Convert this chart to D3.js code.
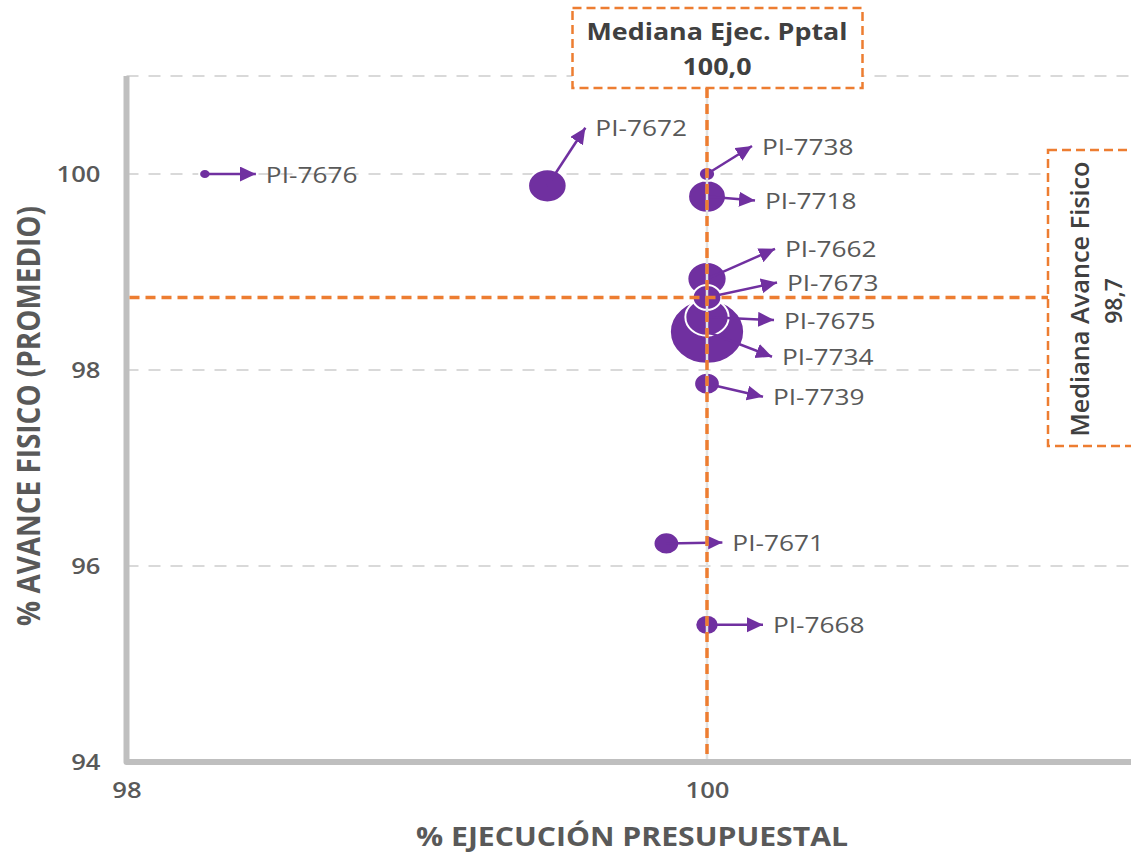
<!DOCTYPE html>
<html><head><meta charset="utf-8">
<script src="https://cdn.jsdelivr.net/npm/d3@7"></script>
<style>body{margin:0;background:#fff}svg{display:block}</style>
</head><body>
<script>
// ---- data ----
const projects  = ["PI-7676","PI-7672","PI-7738","PI-7718","PI-7662","PI-7673","PI-7675","PI-7734","PI-7739","PI-7671","PI-7668"];
const ejecucion = [98.27, 99.45, 100.0, 100.0, 100.0, 100.0, 100.0, 100.0, 100.0, 99.86, 100.0];
const avance    = [100.0, 99.88, 100.0, 99.77, 98.93, 98.74, 98.54, 98.39, 97.86, 96.23, 95.40];
const tamano    = [2.4, 27, 4.8, 26, 28, 15, 34, 100, 12, 12, 10];
const xTicks = [98, 100];
const yTicks = [94, 96, 98, 100];
const medianaEjec = 100.0;
const medianaAvance = 98.74;
const xTitle = "% EJECUCIÓN PRESUPUESTAL";
const yTitle = "% AVANCE FISICO (PROMEDIO)";
const boxTopTitle = "Mediana Ejec. Pptal";
const boxRightTitle = "Mediana Avance Fisico";

// ---- layout (label arrow offsets in px, relative to bubble centre) ----
const arrowTip = [[51,0],[38,-58],[45,-28],[48,4],[68,-30],[70,-15],[67,3],[65,25],[56,13],[56,-1],[56,0]];

const W = 1131, H = 855;
const PURPLE = "#7030a0", ORANGE = "#ed7d31", GRID = "#d9d9d9", AXIS = "#bfbfbf", TXT = "#595959", DARK = "#404040";
const FONT = "'Open Sans', 'DejaVu Sans', sans-serif";
const fmt = v => d3.format(".1f")(v).replace(".", ",");

const x = d3.scaleLinear().domain([98, 100]).range([126.5, 707]);
const y = d3.scaleLinear().domain([94, 101]).range([762, 76]);
const r = d3.scaleSqrt().domain([0, 100]).range([0, 32]);
const STRETCH = 1.16;

const svg = d3.select("body").append("svg").attr("width", W).attr("height", H)
  .style("font-family", FONT);

// gridlines
const gridVals = yTicks.filter(v => v > y.domain()[0]).concat([y.domain()[1]]);
svg.append("g").selectAll("line").data(gridVals).join("line")
  .attr("x1", x(98)).attr("x2", W)
  .attr("y1", d => y(d)).attr("y2", d => y(d))
  .attr("stroke", GRID).attr("stroke-width", 2).attr("stroke-dasharray", "12,10");

// axes lines
svg.append("path")
  .attr("d", `M${x(98)},${y(101)} V${y(94)} H${W}`)
  .attr("fill", "none").attr("stroke", AXIS).attr("stroke-width", 6)
  .attr("stroke-linejoin", "round");

// tick labels via d3 axes
const sx = 1.22;
const yAx = svg.append("g").attr("transform", `translate(${x(98)},0)`)
  .call(d3.axisLeft(y).tickValues(yTicks).tickSize(0).tickFormat(d3.format("d")));
yAx.select(".domain").remove();
yAx.selectAll("text")
  .attr("x", -26 / sx).attr("dy", "0.36em")
  .attr("transform", `scale(${sx},1)`)
  .style("font-family", FONT).style("font-size", "21px").style("font-weight", 600).attr("fill", TXT);

const xAx = svg.append("g").attr("transform", `translate(0,${y(94)})`)
  .call(d3.axisBottom(x).tickValues(xTicks).tickSize(0).tickFormat(d3.format("d")));
xAx.select(".domain").remove();
xAx.selectAll("text")
  .attr("y", 36).attr("dy", "0em")
  .attr("transform", `scale(${sx},1)`)
  .style("font-family", FONT).style("font-size", "21px").style("font-weight", 600).attr("fill", TXT);

// axis titles
svg.append("text").text(xTitle)
  .attr("x", 632).attr("y", 846).attr("text-anchor", "middle")
  .attr("textLength", 432).attr("lengthAdjust", "spacingAndGlyphs")
  .style("font-size", "26px").style("font-weight", 700).attr("fill", TXT);

svg.append("text").text(yTitle)
  .attr("transform", "translate(40,416) rotate(-90) scale(1,1.2)")
  .attr("text-anchor", "middle")
  .attr("textLength", 420).attr("lengthAdjust", "spacingAndGlyphs")
  .style("font-size", "27px").style("font-weight", 700).attr("fill", TXT);

// data rows
const rows = projects.map((p, i) => ({
  name: p, ex: ejecucion[i], av: avance[i], size: tamano[i], tip: arrowTip[i]
}));

// bubbles (largest first)
svg.append("g").selectAll("ellipse")
  .data(rows.slice().sort((a, b) => b.size - a.size))
  .join("ellipse")
  .attr("cx", d => x(d.ex)).attr("cy", d => y(d.av))
  .attr("rx", d => r(d.size) * STRETCH).attr("ry", d => r(d.size))
  .attr("fill", PURPLE).attr("stroke", "#fff").attr("stroke-width", 2);

// arrows
const defs = svg.append("defs");
defs.append("marker").attr("id", "ah")
  .attr("markerUnits", "userSpaceOnUse")
  .attr("markerWidth", 18).attr("markerHeight", 16)
  .attr("refX", 16).attr("refY", 7.5).attr("orient", "auto")
  .append("path").attr("d", "M0,0 L16,7.5 L0,15 Z").attr("fill", PURPLE);

svg.append("g").selectAll("line").data(rows).join("line")
  .attr("x1", d => x(d.ex)).attr("y1", d => y(d.av))
  .attr("x2", d => x(d.ex) + d.tip[0]).attr("y2", d => y(d.av) + d.tip[1])
  .attr("stroke", PURPLE).attr("stroke-width", 2.5)
  .attr("marker-end", "url(#ah)");

// median lines
const mx = x(medianaEjec), my = y(medianaAvance);
svg.append("line").attr("x1", mx).attr("x2", mx).attr("y1", 88).attr("y2", y(94) - 3)
  .attr("stroke", "#e2e2e2").attr("stroke-width", 2.5);
svg.append("line").attr("x1", mx).attr("x2", mx).attr("y1", 88).attr("y2", y(94) - 3)
  .attr("stroke", ORANGE).attr("stroke-width", 3.5).attr("stroke-dasharray", "10,6");
svg.append("line").attr("x1", x(98) + 3).attr("x2", 1048).attr("y1", my).attr("y2", my)
  .attr("stroke", ORANGE).attr("stroke-width", 3.5).attr("stroke-dasharray", "10,6");

// labels
const lsx = 1.25;
svg.append("g").selectAll("text").data(rows).join("text")
  .text(d => d.name)
  .attr("transform", d => `translate(${x(d.ex) + d.tip[0] + 10},${y(d.av) + d.tip[1] + 1}) scale(${lsx},1)`)
  .attr("dy", "0.36em")
  .style("font-size", "21px").attr("fill", TXT);

// median boxes
svg.append("rect").attr("x", 572.5).attr("y", 8).attr("width", 290).attr("height", 80)
  .attr("fill", "#fff").attr("stroke", ORANGE).attr("stroke-width", 2.5).attr("stroke-dasharray", "9,5");
const bt = svg.append("g").attr("fill", DARK).style("font-size", "24px").style("font-weight", 700);
bt.append("text").text(boxTopTitle)
  .attr("transform", "translate(717,40) scale(1.12,1)").attr("text-anchor", "middle");
bt.append("text").text(fmt(medianaEjec))
  .attr("transform", "translate(717,75) scale(1.12,1)").attr("text-anchor", "middle");

svg.append("rect").attr("x", 1048).attr("y", 150).attr("width", 140).attr("height", 296)
  .attr("fill", "#fff").attr("stroke", ORANGE).attr("stroke-width", 2.5).attr("stroke-dasharray", "9,5");
const br = svg.append("g").attr("fill", DARK).style("font-size", "23px").style("font-weight", 600);
br.append("text").text(boxRightTitle)
  .attr("transform", "translate(1089,299) rotate(-90) scale(1,1.1)").attr("text-anchor", "middle")
  .attr("textLength", 275).attr("lengthAdjust", "spacingAndGlyphs");
br.append("text").text(fmt(medianaAvance))
  .attr("transform", "translate(1122,301) rotate(-90) scale(1,1.05)").attr("text-anchor", "middle");
</script>
</body></html>
